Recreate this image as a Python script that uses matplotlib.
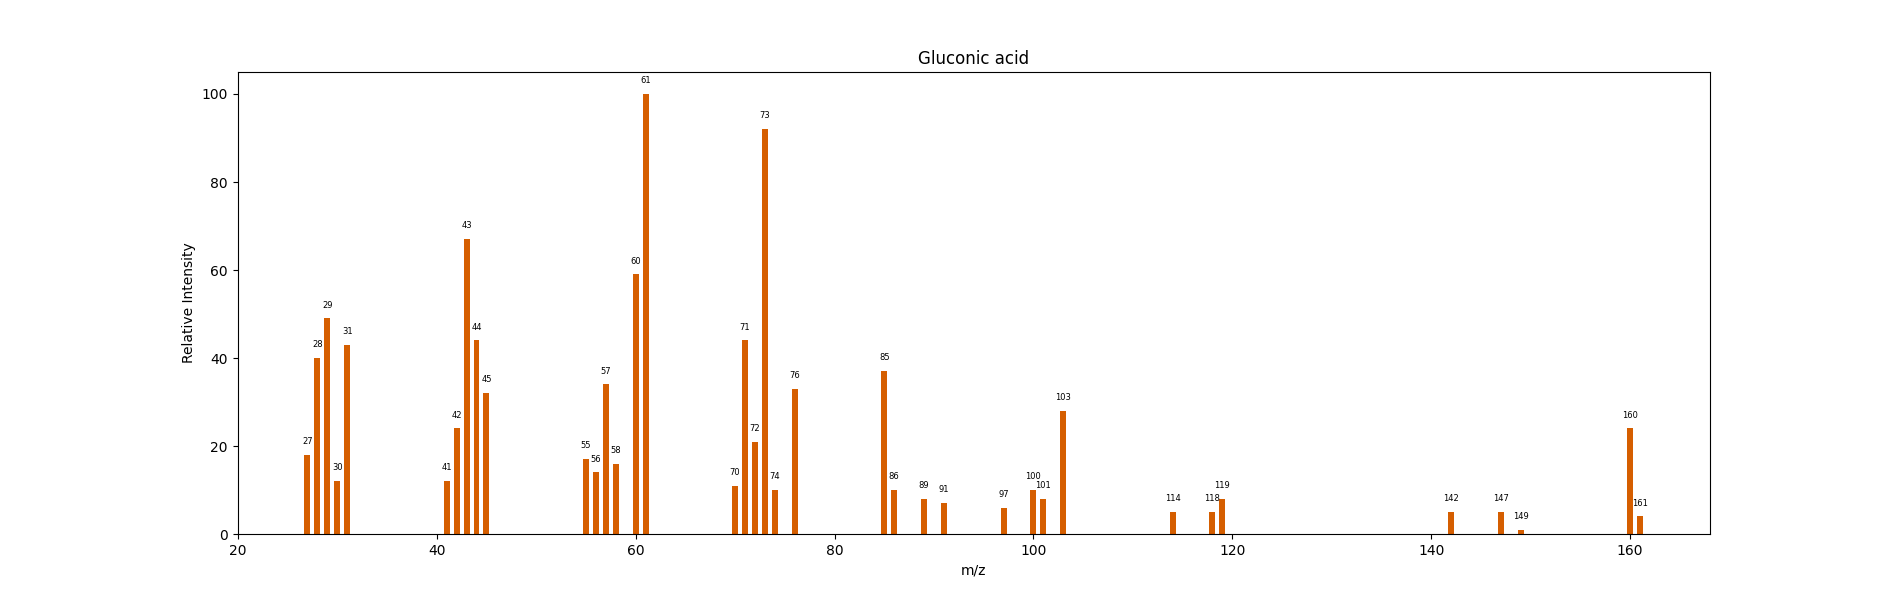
import matplotlib
matplotlib.use("Agg")
import matplotlib.pyplot as plt


# ==========================
# DATA
# ==========================

mz = [
    27, 28, 29, 30, 31,
    41, 42, 43, 44, 45,
    55, 56, 57, 58, 60, 61,
    70, 71, 72, 73, 74, 76,
    85, 86, 89, 91, 97, 100, 101, 103,
    114, 118, 119, 142, 147, 149, 160, 161
]

intensity = [
    18, 40, 49, 12, 43,
    12, 24, 67, 44, 32,
    17, 14, 34, 16, 59, 100,
    11, 44, 21, 92, 10, 33,
    37, 10, 8, 7, 6, 10, 8, 28,
    5, 5, 8, 5, 5, 1, 24, 4
]


# ==========================
# PLOT
# ==========================

fig, ax = plt.subplots(figsize=(19, 6), dpi=100)

ax.bar(
    mz,
    intensity,
    width=0.6,
    color="#D55E00"
)

for x, y in zip(mz, intensity):
    ax.text(
        x,
        y + 2,
        str(x),
        ha="center",
        va="bottom",
        fontsize=6
    )

ax.set_title("Gluconic acid")
ax.set_xlabel("m/z")
ax.set_ylabel("Relative Intensity")

fig.savefig("out.png", dpi=100)
